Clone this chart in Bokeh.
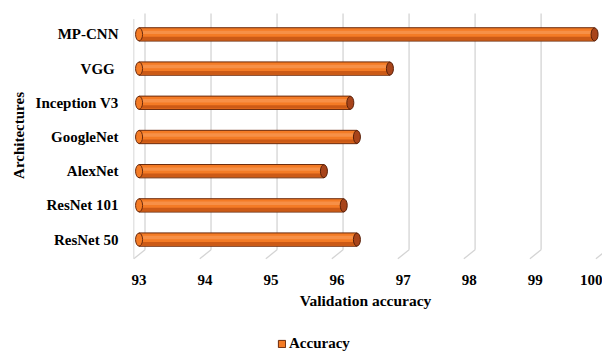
from bokeh.plotting import figure
from bokeh.models import Legend, LegendItem, FixedTicker
from bokeh.layouts import column
from bokeh.embed import file_html
from bokeh.resources import INLINE

architectures = ["ResNet 50", "ResNet 101", "AlexNet", "GoogleNet", "Inception V3", "VGG ", "MP-CNN"]
accuracy = [96.3, 96.1, 95.8, 96.3, 96.2, 96.8, 99.9]
x_ticks = [93, 94, 95, 96, 97, 98, 99, 100]

ypos = list(range(len(architectures)))
FONT = "Liberation Serif"
FILL = "#f47b25"
EDGE = "#6b2a0c"

p = figure(width=602, height=322, output_backend="svg", toolbar_location=None,
           x_range=(92.84, 100.02), y_range=(-0.67, 6.757),
           min_border_left=128, min_border_right=0, min_border_top=8, min_border_bottom=60)
p.outline_line_color = None
p.grid.grid_line_color = None

# 3D-style walls / gridlines (back plane shifted right/up)
dx = 0.09
gx0 = [v + dx for v in x_ticks]
p.segment(x0=gx0, y0=[6.61] * len(x_ticks), x1=gx0, y1=[-0.3] * len(x_ticks),
          line_color="#d4d4d4", line_width=1.3)
p.segment(x0=gx0, y0=[-0.3] * len(x_ticks), x1=[v - 0.08 for v in x_ticks], y1=[-0.56] * len(x_ticks),
          line_color="#d4d4d4", line_width=1.3)
p.segment(x0=[93 - 0.08], y0=[6.45], x1=[93 - 0.08], y1=[-0.56], line_color="#dedede", line_width=1.2)

# cylinder bars
left = [93] * len(accuracy)
r_main = p.hbar(y=ypos, left=left, right=accuracy, height=0.39,
                fill_color=FILL, line_color=EDGE, line_width=1)
p.hbar(y=[y - 0.12 for y in ypos], left=left, right=accuracy, height=0.1,
       fill_color="#bf4f12", line_color=None, fill_alpha=0.75)
p.hbar(y=[y + 0.06 for y in ypos], left=left, right=accuracy, height=0.1,
       fill_color="#f89a55", line_color=None, fill_alpha=0.7)
p.ellipse(x=accuracy, y=ypos, width=7, height=13, width_units="screen", height_units="screen",
          fill_color="#a8441a", line_color="#5a2008", line_width=1)
p.ellipse(x=left, y=ypos, width=7, height=13, width_units="screen", height_units="screen",
          fill_color=FILL, line_color=EDGE, line_width=1)

# axes
p.xaxis.ticker = FixedTicker(ticks=x_ticks)
p.xaxis.axis_label = "Validation accuracy"
p.xaxis.axis_line_color = None
p.xaxis.major_tick_line_color = None
p.xaxis.minor_tick_line_color = None
p.xaxis.major_tick_out = 0
p.xaxis.minor_tick_out = 0
p.xaxis.major_label_standoff = 12
p.xaxis.axis_label_standoff = 4
p.xaxis.major_label_text_font = FONT
p.xaxis.major_label_text_font_style = "bold"
p.xaxis.major_label_text_font_size = "15px"
p.xaxis.major_label_text_color = "#000000"
p.xaxis.axis_label_text_font = FONT
p.xaxis.axis_label_text_font_style = "bold"
p.xaxis.axis_label_text_font_size = "15.5px"
p.xaxis.axis_label_text_color = "#000000"

p.yaxis.ticker = FixedTicker(ticks=ypos)
p.yaxis.major_label_overrides = {i: a for i, a in enumerate(architectures)}
p.yaxis.axis_label = "Architectures"
p.yaxis.axis_line_color = None
p.yaxis.major_tick_line_color = None
p.yaxis.minor_tick_line_color = None
p.yaxis.major_label_standoff = 4
p.yaxis.axis_label_standoff = 6
p.yaxis.major_label_text_font = FONT
p.yaxis.major_label_text_font_style = "bold"
p.yaxis.major_label_text_font_size = "15px"
p.yaxis.major_label_text_color = "#000000"
p.yaxis.axis_label_text_font = FONT
p.yaxis.axis_label_text_font_style = "bold"
p.yaxis.axis_label_text_font_size = "15px"
p.yaxis.axis_label_text_color = "#000000"

# legend row
lg = figure(width=602, height=30, output_backend="svg", toolbar_location=None,
            x_range=(0, 1), y_range=(0, 1), min_border=0)
lg.axis.visible = False
lg.grid.grid_line_color = None
lg.outline_line_color = None
r_leg = lg.hbar(y=[5], left=[5], right=[6], height=0.4, fill_color=FILL, line_color=EDGE, line_width=1)
legend = Legend(items=[LegendItem(label="Accuracy", renderers=[r_leg])],
                location=(149, 0), orientation="horizontal",
                glyph_width=9, glyph_height=9, label_standoff=3, padding=2, margin=0,
                border_line_color=None, background_fill_alpha=0)
legend.label_text_font = FONT
legend.label_text_font_style = "bold"
legend.label_text_font_size = "15px"
legend.label_text_color = "#000000"
lg.add_layout(legend, "center")

layout = column(p, lg, spacing=0)
open("out.html", "w").write(file_html(layout, INLINE))
